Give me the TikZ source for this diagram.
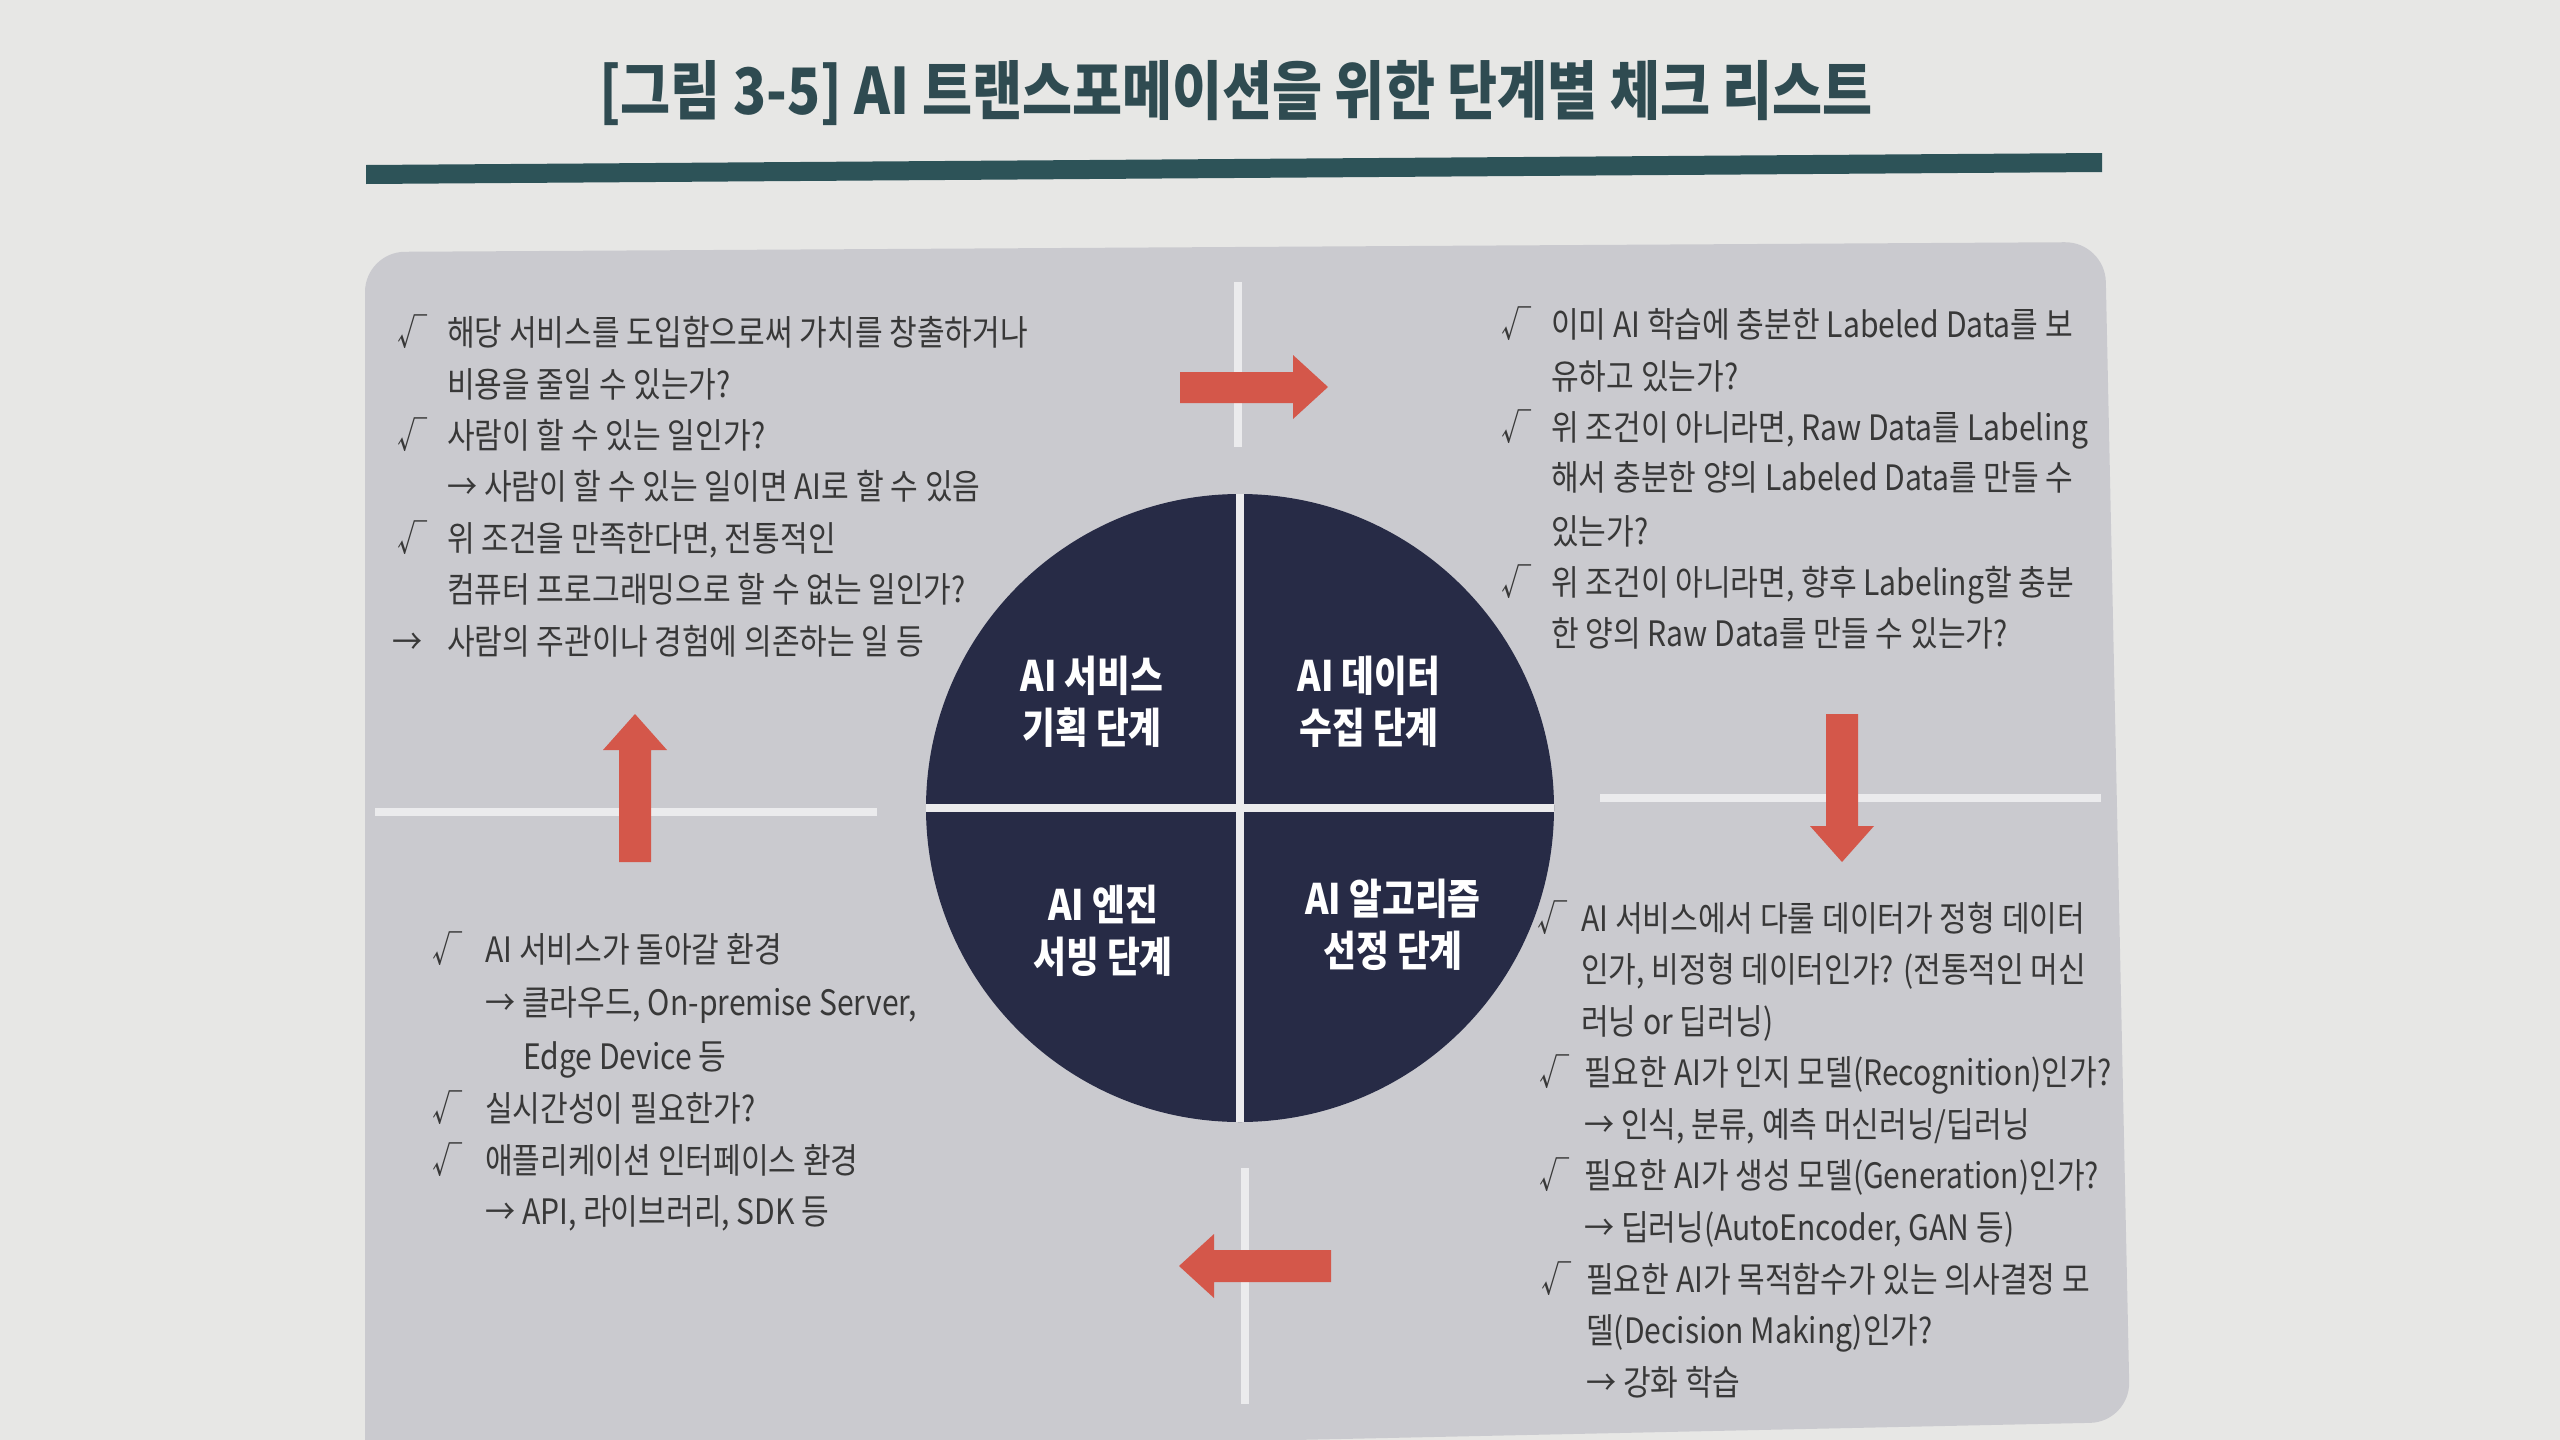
\documentclass[tikz,border=0pt]{standalone}
\usepackage{fontspec}
\setmainfont{Noto Sans CJK KR}[FakeStretch=0.86]
\newfontfamily\boldkr{Noto Sans CJK KR}[FakeStretch=0.85]
\definecolor{pagec}{HTML}{E7E7E5}
\definecolor{panelc}{HTML}{CACACF}
\definecolor{barc}{HTML}{2D5358}
\definecolor{titlec}{HTML}{2F4B51}
\definecolor{navyc}{HTML}{272B46}
\definecolor{redc}{HTML}{D4574A}
\definecolor{linec}{HTML}{EBEBED}
\definecolor{txtc}{HTML}{383838}
\tikzset{
  txt/.style={anchor=west, inner sep=0pt, text height=27pt, text depth=3pt,
    font=\fontsize{35}{42}\selectfont, text=txtc},
  quad/.style={font=\boldkr\bfseries\fontsize{42}{52}\selectfont, text=white,
    align=center, inner sep=0pt},
  crossline/.style={draw=linec, line width=8pt},
  redarrow/.style={fill=redc},
}
\begin{document}
\begin{tikzpicture}[x=1pt,y=-1pt]
\useasboundingbox (0,0) rectangle (2560,1440);
\fill[pagec] (0,0) rectangle (2560,1440);
% title and bar
\node[font=\boldkr\bfseries\fontsize{64}{70}\selectfont, text=titlec, inner sep=0pt] (title) at (1236,93)
  {[그림 3-5] AI 트랜스포메이션을 위한 단계별 체크 리스트};
\fill[barc] (366,165) -- (2102,153) -- (2102,172) -- (366,184) -- cycle;
% panel
\fill[panelc, rounded corners=40pt] (365,1500) -- (365,252) -- (2105,242) -- (2130,1422) -- (365,1460) -- cycle;
% white cross segments
\coordinate (vt1) at (1238,282); \coordinate (vt2) at (1238,447);
\coordinate (vb1) at (1245,1168); \coordinate (vb2) at (1245,1404);
\coordinate (hl1) at (375,812); \coordinate (hl2) at (877,812);
\coordinate (hr1) at (1600,798); \coordinate (hr2) at (2101,798);
\draw[crossline] (vt1) -- (vt2);
\draw[crossline] (vb1) -- (vb2);
\draw[crossline] (hl1) -- (hl2);
\draw[crossline] (hr1) -- (hr2);
% circle
\node[circle, fill=navyc, minimum size=628pt, inner sep=0pt] (circ) at (1240,808) {};
\draw[crossline] (circ.north) -- (circ.south);
\draw[crossline] (circ.west) -- (circ.east);
\node[quad] (q1) at (1092,702) {AI 서비스\\기획 단계};
\node[quad] (q2) at (1369,702) {AI 데이터\\수집 단계};
\node[quad] (q3) at (1103,931) {AI 엔진\\서빙 단계};
\node[quad] (q4) at (1393,925) {AI 알고리즘\\선정 단계};
% red arrows
\fill[redarrow] (1180,372) -- (1293,372) -- (1293,355) -- (1328,387) -- (1293,419) -- (1293,403) -- (1180,403) -- cycle;
\fill[redarrow] (1826,714) -- (1858,714) -- (1858,826) -- (1874,826) -- (1842,862) -- (1810,826) -- (1826,826) -- cycle;
\fill[redarrow] (1331,1250) -- (1214,1250) -- (1214,1234) -- (1179,1266) -- (1214,1298) -- (1214,1282) -- (1331,1282) -- cycle;
\fill[redarrow] (619,862) -- (651,862) -- (651,750) -- (667,750) -- (635,714) -- (603,750) -- (619,750) -- cycle;
% left top block
\node[txt] (a1c) at (397,333) {√};
\node[txt] (a1) at (447,333) {해당 서비스를 도입함으로써 가치를 창출하거나};
\node[txt] (a2) at (447,385) {비용을 줄일 수 있는가?};
\node[txt] (a3c) at (397,436) {√};
\node[txt] (a3) at (447,436) {사람이 할 수 있는 일인가?};
\node[txt] (a4) at (447,487) {→ 사람이 할 수 있는 일이면 AI로 할 수 있음};
\node[txt] (a5c) at (397,539) {√};
\node[txt] (a5) at (447,539) {위 조건을 만족한다면, 전통적인};
\node[txt] (a6) at (447,590) {컴퓨터 프로그래밍으로 할 수 없는 일인가?};
\node[txt] (a7c) at (392,642) {→};
\node[txt] (a7) at (447,642) {사람의 주관이나 경험에 의존하는 일 등};
% right top block
\node[txt] (b1c) at (1501,325) {√};
\node[txt] (b1) at (1551,325) {이미 AI 학습에 충분한 Labeled Data를 보};
\node[txt] (b2) at (1551,377) {유하고 있는가?};
\node[txt] (b3c) at (1501,428) {√};
\node[txt] (b3) at (1551,428) {위 조건이 아니라면, Raw Data를 Labeling};
\node[txt] (b4) at (1551,478) {해서 충분한 양의 Labeled Data를 만들 수};
\node[txt] (b5) at (1551,532) {있는가?};
\node[txt] (b6c) at (1501,583) {√};
\node[txt] (b6) at (1551,583) {위 조건이 아니라면, 향후 Labeling할 충분};
\node[txt] (b7) at (1551,634) {한 양의 Raw Data를 만들 수 있는가?};
% bottom right block
\node[txt] (c1c) at (1537,919) {√};
\node[txt] (c1) at (1581,919) {AI 서비스에서 다룰 데이터가 정형 데이터};
\node[txt] (c2) at (1581,970) {인가, 비정형 데이터인가? (전통적인 머신};
\node[txt] (c3) at (1581,1022) {러닝 or 딥러닝)};
\node[txt] (c4c) at (1539,1073) {√};
\node[txt] (c4) at (1584,1073) {필요한 AI가 인지 모델(Recognition)인가?};
\node[txt] (c5) at (1584,1125) {→ 인식, 분류, 예측 머신러닝/딥러닝};
\node[txt] (c6c) at (1539,1176) {√};
\node[txt] (c6) at (1584,1176) {필요한 AI가 생성 모델(Generation)인가?};
\node[txt] (c7) at (1584,1228) {→ 딥러닝(AutoEncoder, GAN 등)};
\node[txt] (c8c) at (1541,1280) {√};
\node[txt] (c8) at (1586,1280) {필요한 AI가 목적함수가 있는 의사결정 모};
\node[txt] (c9) at (1586,1331) {델(Decision Making)인가?};
\node[txt] (c10) at (1586,1383) {→ 강화 학습};
% bottom left block
\node[txt] (d1c) at (432,950) {√};
\node[txt] (d1) at (485,950) {AI 서비스가 돌아갈 환경};
\node[txt] (d2) at (485,1003) {→ 클라우드, On-premise Server,};
\node[txt] (d3) at (523,1057) {Edge Device 등};
\node[txt] (d4c) at (432,1109) {√};
\node[txt] (d4) at (485,1109) {실시간성이 필요한가?};
\node[txt] (d5c) at (432,1161) {√};
\node[txt] (d5) at (485,1161) {애플리케이션 인터페이스 환경};
\node[txt] (d6) at (485,1212) {→ API, 라이브러리, SDK 등};
\end{tikzpicture}
\end{document}
